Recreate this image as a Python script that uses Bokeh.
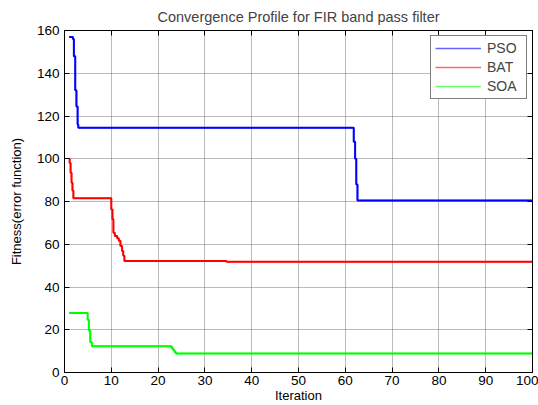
from bokeh.plotting import figure
from bokeh.models import (LinearAxis, SingleIntervalTicker, Range1d, Legend, LegendItem,
                          CustomJSTickFormatter)
from bokeh.embed import file_html
from bokeh.resources import INLINE

# ---- data ----
pso_iter = [1, 1.8, 2.0, 2.3, 2.55, 2.8, 2.95, 61.8, 62.1, 62.35, 62.6, 100]
pso_fit = [157, 156, 148, 132, 124.5, 116, 114.5, 108, 100, 88, 80.5, 80.5]

bat_iter = [1, 1.1, 1.3, 1.5, 1.7, 1.9, 10.0, 10.25, 10.45, 10.75, 11.25, 11.6,
            11.95, 12.3, 12.55, 12.8, 34.6, 100]
bat_fit = [100, 98, 93.4, 88.8, 85.2, 81.5, 76.3, 71.7, 65.4, 63.9, 62.8, 61.6,
           59.2, 56.9, 54.6, 52.2, 51.8, 51.8]

soa_iter = [1, 4.95, 5.2, 5.5, 5.85, 22.9, 23.2, 23.5, 23.8, 100]
soa_fit = [27.8, 24.7, 19.6, 14.1, 12.3, 11.4, 10.5, 9.6, 8.9, 8.9]

series_names = ["PSO", "BAT", "SOA"]
series_colors = ["#0000ff", "#ff0000", "#00ff00"]

x_ticks_interval = 10
y_ticks_interval = 20

FONT = "Liberation Sans"

p = figure(width=538, height=405, output_backend="svg", toolbar_location=None,
           x_range=Range1d(0, 100), y_range=Range1d(0, 160),
           min_border_left=64, min_border_right=6, min_border_top=29, min_border_bottom=33,
           title="Convergence Profile for FIR band pass filter")

p.title.align = "center"
p.title.text_font = FONT
p.title.text_font_size = "14.5px"
p.title.text_font_style = "normal"
p.title.standoff = 12
p.title.offset = 0

p.background_fill_color = "white"
p.border_fill_color = "white"
p.outline_line_color = "black"
p.outline_line_width = 1

xt = SingleIntervalTicker(interval=x_ticks_interval, num_minor_ticks=0)
yt = SingleIntervalTicker(interval=y_ticks_interval, num_minor_ticks=0)
p.xaxis.ticker = xt
p.yaxis.ticker = yt

for ax in (p.xaxis[0], p.yaxis[0]):
    ax.major_tick_in = 5
    ax.major_tick_out = 0
    ax.minor_tick_in = 0
    ax.minor_tick_out = 0
    ax.axis_line_color = "black"
    ax.major_tick_line_color = "black"
    ax.major_label_text_font = FONT
    ax.major_label_text_font_size = "13.5px"
    ax.major_label_text_color = "black"
    ax.axis_label_text_font = FONT
    ax.axis_label_text_font_size = "13px"
    ax.axis_label_text_font_style = "normal"
    ax.axis_label_text_color = "black"

p.xaxis.axis_label = "Iteration"
p.yaxis.axis_label = "Fitness(error function)"
p.xaxis.major_label_standoff = 3
p.xaxis.axis_label_standoff = 0
p.yaxis.major_label_standoff = 5
p.yaxis.axis_label_standoff = 10

# box axes (right / top) with inner ticks, no labels
for loc, tick in (("right", yt), ("above", xt)):
    ax = LinearAxis(ticker=tick, formatter=CustomJSTickFormatter(code="return ''"))
    ax.major_tick_in = 5
    ax.major_tick_out = 0
    ax.minor_tick_in = 0
    ax.minor_tick_out = 0
    ax.major_label_standoff = 0
    ax.axis_line_color = "black"
    ax.major_tick_line_color = "black"
    p.add_layout(ax, loc)

for g in (p.xgrid[0], p.ygrid[0]):
    g.grid_line_color = "#555555"
    g.grid_line_dash = "1 1"
    g.grid_line_alpha = 0.8
    g.grid_line_width = 1

data = [(pso_iter, pso_fit), (bat_iter, bat_fit), (soa_iter, soa_fit)]
items = []
for (xs, ys), name, col in zip(data, series_names, series_colors):
    # thin copy (hidden beneath the main line) used for the legend sample
    thin = p.step(x=xs, y=ys, mode="after", line_color=col, line_width=1.5, line_alpha=0.6)
    p.step(x=xs, y=ys, mode="after", line_color=col, line_width=2)
    items.append(LegendItem(label=name, renderers=[thin]))

legend = Legend(items=items, location="top_right")
legend.margin = 5
legend.padding = 4
legend.spacing = 3
legend.glyph_width = 46
legend.glyph_height = 16
legend.label_height = 16
legend.label_width = 35
legend.label_standoff = 6
legend.label_text_font = FONT
legend.label_text_font_size = "14px"
legend.border_line_color = "black"
legend.border_line_width = 1.5
legend.background_fill_color = "white"
legend.background_fill_alpha = 1
p.add_layout(legend, "center")

open("out.html", "w").write(file_html(p, INLINE))
